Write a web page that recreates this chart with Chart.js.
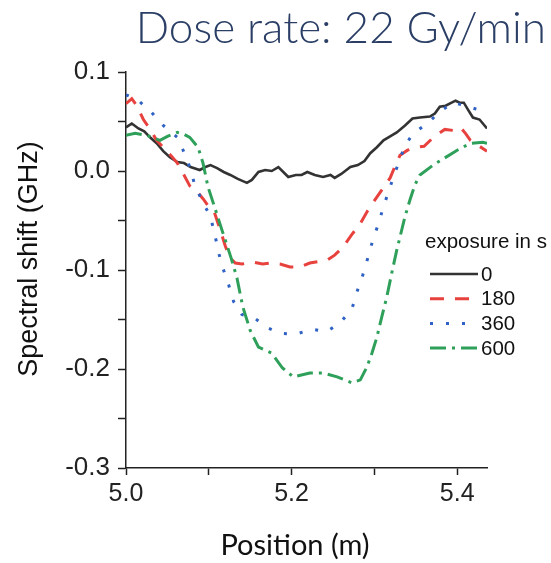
<!DOCTYPE html>
<html>
<head>
<meta charset="utf-8">
<script src="https://cdn.jsdelivr.net/npm/chart.js@4/dist/chart.umd.min.js"></script>
<style>
  html, body { margin: 0; padding: 0; background: #fff; }
  #c { display: block; }
</style>
</head>
<body>
<canvas id="c" width="551" height="563"></canvas>
<script>
// Spectral shift vs position, four exposure times.
const seriesNames = ["0", "180", "360", "600"];

const pos0 = [5.000, 5.007, 5.015, 5.022, 5.029, 5.037, 5.045, 5.053, 5.062, 5.070, 5.078, 5.089, 5.096, 5.102,
  5.110, 5.118, 5.126, 5.135, 5.146, 5.152, 5.160, 5.168, 5.176, 5.184, 5.190, 5.196, 5.205, 5.212, 5.219,
  5.228, 5.238, 5.247, 5.252, 5.260, 5.271, 5.280, 5.288, 5.295, 5.303, 5.311, 5.319, 5.327, 5.337, 5.346,
  5.355, 5.367, 5.373, 5.379, 5.386, 5.398, 5.403, 5.408, 5.413, 5.419, 5.427, 5.436];
const shift0 = [0.044, 0.048, 0.043, 0.040, 0.034, 0.028, 0.020, 0.014, 0.009, 0.008, 0.004, 0.001, 0.004, 0.006,
  0.003, -0.001, -0.004, -0.008, -0.012, -0.009, -0.001, 0.001, 0.000, 0.004, -0.001, -0.006, -0.004, -0.004, -0.001,
  -0.004, -0.006, -0.004, -0.007, -0.003, 0.004, 0.006, 0.010, 0.018, 0.024, 0.031, 0.035, 0.039, 0.046, 0.053,
  0.054, 0.055, 0.058, 0.065, 0.066, 0.071, 0.069, 0.069, 0.062, 0.054, 0.052, 0.043];

const pos180 = [5.000, 5.007, 5.013, 5.021, 5.030, 5.037, 5.047, 5.055, 5.062, 5.070, 5.077, 5.085, 5.093, 5.100,
  5.106, 5.114, 5.120, 5.126, 5.132, 5.140, 5.153, 5.165, 5.175, 5.186, 5.198, 5.210, 5.222, 5.235, 5.243,
  5.252, 5.262, 5.272, 5.283, 5.292, 5.300, 5.310, 5.319, 5.325, 5.331, 5.340, 5.350, 5.360, 5.370, 5.378,
  5.385, 5.395, 5.404, 5.410, 5.416, 5.425, 5.436];
const shift180 = [0.068, 0.073, 0.066, 0.052, 0.041, 0.031, 0.022, 0.015, 0.008, -0.004, -0.015, -0.020, -0.028, -0.036,
  -0.040, -0.060, -0.076, -0.088, -0.093, -0.094, -0.092, -0.094, -0.093, -0.094, -0.097, -0.097, -0.093, -0.091, -0.090,
  -0.085, -0.077, -0.065, -0.053, -0.040, -0.030, -0.018, -0.007, 0.005, 0.016, 0.021, 0.024, 0.025, 0.033, 0.038,
  0.042, 0.041, 0.044, 0.038, 0.031, 0.026, 0.020];

const pos360 = [5.000, 5.014, 5.031, 5.045, 5.062, 5.069, 5.077, 5.083, 5.093, 5.102, 5.108, 5.112, 5.117, 5.124,
  5.130, 5.140, 5.156, 5.170, 5.186, 5.204, 5.225, 5.243, 5.259, 5.273, 5.279, 5.286, 5.292, 5.298, 5.305,
  5.311, 5.317, 5.323, 5.337, 5.347, 5.364, 5.379, 5.395, 5.410, 5.425, 5.436];
const shift360 = [0.077, 0.072, 0.059, 0.046, 0.034, 0.021, 0.004, -0.014, -0.032, -0.046, -0.067, -0.083, -0.098, -0.115,
  -0.132, -0.145, -0.149, -0.158, -0.164, -0.165, -0.160, -0.162, -0.153, -0.139, -0.122, -0.105, -0.088, -0.070, -0.053,
  -0.036, -0.021, -0.006, 0.026, 0.038, 0.048, 0.060, 0.069, 0.066, 0.062, 0.057];

const pos600 = [5.000, 5.011, 5.025, 5.041, 5.050, 5.062, 5.070, 5.077, 5.087, 5.093, 5.099, 5.108, 5.116, 5.120,
  5.127, 5.134, 5.141, 5.150, 5.160, 5.176, 5.189, 5.202, 5.222, 5.238, 5.255, 5.273, 5.283, 5.291, 5.297,
  5.303, 5.309, 5.315, 5.321, 5.327, 5.337, 5.343, 5.349, 5.355, 5.371, 5.400, 5.416, 5.431, 5.436];
const shift600 = [0.036, 0.038, 0.036, 0.031, 0.035, 0.039, 0.037, 0.034, 0.024, 0.008, -0.016, -0.039, -0.060, -0.070,
  -0.088, -0.108, -0.137, -0.161, -0.178, -0.184, -0.199, -0.208, -0.204, -0.204, -0.208, -0.214, -0.211, -0.198, -0.184,
  -0.168, -0.147, -0.127, -0.103, -0.080, -0.046, -0.029, -0.014, -0.004, 0.006, 0.021, 0.028, 0.029, 0.028];

const xTickVals = [5.0, 5.1, 5.2, 5.3, 5.4];
const yTickVals = [-0.3, -0.25, -0.2, -0.15, -0.1, -0.05, 0, 0.05, 0.1];

const pts = (xs, ys) => xs.map((x, i) => ({ x, y: ys[i] }));
const isMajor = (v) => Math.abs(v * 10 - Math.round(v * 10)) < 1e-6;

const styles = [
  { color: "#333333", dash: [], width: 2.6 },
  { color: "#e8423f", dash: [14, 11], width: 3 },
  { color: "#2f62c4", dash: [3, 13], width: 3 },
  { color: "#2ea05a", dash: [16, 6, 3, 6], width: 3 },
];
const seriesData = [pts(pos0, shift0), pts(pos180, shift180), pts(pos360, shift360), pts(pos600, shift600)];

const datasets = seriesData.map((d, i) => ({
  label: seriesNames[i],
  data: d,
  borderColor: styles[i].color,
  borderDash: styles[i].dash,
  borderWidth: styles[i].width,
  pointRadius: 0,
  tension: 0,
  order: 4 - i,
}));

// titles and the in-plot legend
const textPlugin = {
  id: "texts",
  afterDraw(chart) {
    const ctx = chart.ctx;
    ctx.save();
    ctx.fillStyle = "#2b3f66";
    ctx.font = "300 44px Lato";
    ctx.textAlign = "right";
    ctx.textBaseline = "alphabetic";
    ctx.fillText("Dose rate: 22 Gy/min", 546, 43);

    ctx.fillStyle = "#111";
    ctx.font = "29px Lato";
    ctx.textAlign = "center";
    ctx.fillText("Position (m)", 295, 555);

    ctx.save();
    ctx.translate(37, 259);
    ctx.rotate(-Math.PI / 2);
    ctx.font = "27px 'Liberation Sans'";
    ctx.textBaseline = "alphabetic";
    ctx.fillText("Spectral shift (GHz)", 0, 0);
    ctx.restore();

    ctx.font = "20.5px 'Liberation Sans'";
    ctx.textAlign = "left";
    ctx.textBaseline = "alphabetic";
    ctx.fillText("exposure in s", 425, 248);
    chart.data.datasets.forEach((ds, i) => {
      const y = 274 + i * 24.7;
      ctx.beginPath();
      ctx.setLineDash(ds.borderDash);
      ctx.strokeStyle = ds.borderColor;
      ctx.lineWidth = ds.borderWidth;
      ctx.moveTo(430, y);
      ctx.lineTo(478, y);
      ctx.stroke();
      ctx.setLineDash([]);
      ctx.textBaseline = "middle";
      ctx.fillText(ds.label, 481, y + 1);
    });
    ctx.restore();
  },
};

new Chart(document.getElementById("c"), {
  type: "line",
  data: { datasets },
  options: {
    responsive: false,
    animation: false,
    layout: { padding: { left: 0, top: 72, right: 64, bottom: 0 } },
    plugins: { legend: { display: false }, tooltip: { enabled: false } },
    scales: {
      x: {
        type: "linear",
        min: 5.0,
        max: 5.436,
        afterBuildTicks: (s) => { s.ticks = xTickVals.map((v) => ({ value: v })); },
        afterFit: (s) => { s.height = 95; },
        ticks: {
          autoSkip: false,
          maxRotation: 0,
          padding: 4,
          color: "#222",
          font: { family: "'Liberation Sans'", size: 25 },
          callback: (v) => (Math.abs(v * 5 - Math.round(v * 5)) < 1e-6 ? v.toFixed(1) : ""),
        },
        grid: { drawOnChartArea: false, tickLength: 7, tickColor: "#222", tickWidth: 1.5 },
        border: { color: "#222", width: 1.5 },
      },
      y: {
        min: -0.3,
        max: 0.1,
        afterBuildTicks: (s) => { s.ticks = yTickVals.map((v) => ({ value: v })); },
        afterFit: (s) => { s.width = 126; },
        ticks: {
          autoSkip: false,
          padding: 8,
          color: "#222",
          font: { family: "'Liberation Sans'", size: 26 },
          callback: (v) => (isMajor(v) ? v.toFixed(1) : ""),
        },
        grid: { drawOnChartArea: false, tickLength: 8, tickColor: "#222", tickWidth: 1.5 },
        border: { color: "#222", width: 1.5 },
      },
    },
  },
  plugins: [textPlugin],
});
</script>
</body>
</html>
